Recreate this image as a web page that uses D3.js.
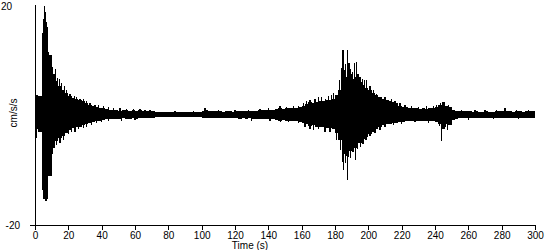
<!DOCTYPE html>
<html>
<head>
<meta charset="utf-8">
<script src="https://cdn.jsdelivr.net/npm/d3@7"></script>
<style>
  body { margin: 0; background: #fff; }
  svg { display: block; font-family: "Liberation Sans", Arial, sans-serif; }
  .axis text { font-size: 10px; fill: #000; }
  .axis path, .axis line { stroke: #000; shape-rendering: crispEdges; }
</style>
</head>
<body>
<div id="chart"></div>
<script>
// envelope of the record, one value per 2 s bin starting at 0 s
const binWidth = 2;
const upper = [
  3.6, 3.4, 8, 16, 11, 7, 6.2, 5.3, 4.5, 4.0,
  3.5, 3.1, 2.9, 2.7, 2.5, 2.2, 1.9, 1.7, 1.5, 1.3,
  1.2, 1.1, 1.0, 0.9, 0.9, 0.8, 0.9, 0.9, 0.8, 0.9,
  0.8, 0.9, 0.8, 0.8, 0.7, 0.7, 0.6, 0.6, 0.5, 0.6,
  0.5, 0.5, 0.6, 0.5, 0.5, 0.6, 0.5, 0.5, 0.6, 0.6,
  0.7, 1.0, 0.8, 0.7, 0.7, 0.7, 0.6, 0.7, 0.7, 0.6,
  0.7, 0.8, 0.7, 0.8, 0.7, 0.8, 0.8, 0.9, 0.9, 0.9,
  1.0, 0.9, 1.1, 1.2, 1.1, 1.2, 1.3, 1.2, 1.3, 1.4,
  1.6, 2.0, 2.3, 2.2, 2.4, 2.6, 2.5, 2.8, 2.7, 3.0,
  3.6, 4.5, 7, 7, 7.5, 6.5, 7, 6, 5.5, 5,
  4.5, 4.0, 3.6, 3.2, 2.9, 2.7, 2.6, 2.4, 2.1, 1.7,
  1.5, 1.4, 1.3, 1.2, 1.2, 1.1, 1.2, 1.1, 1.2, 1.3,
  1.4, 1.9, 2.4, 1.7, 1.5, 1.0, 0.8, 0.7, 0.7, 0.7,
  0.7, 0.6, 0.7, 0.6, 0.6, 0.7, 0.6, 0.6, 0.7, 0.7,
  0.7, 0.8, 0.7, 0.6, 0.7, 0.7, 0.6, 0.7, 0.7, 0.7
];
const lower = [
  -2.6, -3.0, -4.5, -12, -11, -6, -4.8, -4.2, -3.8, -3.3,
  -2.8, -2.4, -2.2, -2.1, -1.9, -1.7, -1.4, -1.3, -1.1, -1.0,
  -0.9, -0.8, -0.8, -0.7, -0.7, -0.7, -0.6, -0.7, -0.7, -0.6,
  -0.7, -0.6, -0.6, -0.6, -0.5, -0.5, -0.4, -0.4, -0.4, -0.4,
  -0.4, -0.3, -0.4, -0.4, -0.3, -0.4, -0.4, -0.3, -0.4, -0.4,
  -0.5, -0.6, -0.6, -0.5, -0.6, -0.5, -0.5, -0.6, -0.5, -0.6,
  -0.6, -0.7, -0.6, -0.7, -0.6, -0.7, -0.7, -0.8, -0.8, -0.7,
  -0.8, -0.8, -0.9, -1.0, -0.9, -1.0, -1.0, -1.1, -1.1, -1.2,
  -1.4, -1.7, -2.0, -1.9, -2.1, -2.2, -2.1, -2.4, -2.3, -2.6,
  -3.2, -4.5, -7, -7.5, -6.5, -6, -6, -5, -4.3, -4,
  -3.5, -3.0, -2.6, -2.2, -1.9, -1.7, -1.6, -1.5, -1.4, -1.3,
  -1.2, -1.1, -1.1, -1.0, -1.0, -1.1, -1.0, -1.0, -1.1, -1.1,
  -1.2, -1.6, -2.6, -1.6, -1.8, -0.9, -0.7, -0.6, -0.6, -0.6,
  -0.6, -0.5, -0.6, -0.5, -0.6, -0.6, -0.5, -0.6, -0.5, -0.6,
  -0.6, -0.6, -0.6, -0.5, -0.6, -0.6, -0.5, -0.6, -0.5, -0.6
];

// single peaks sticking out of the envelope: [time s, cm/s/s]
const peaks = [
  [4.6, 15], [5.2, 17.5], [5.8, 19.8], [6.3, 18.7], [6.9, 17], [7.5, 13], [8.3, 11.5],
  [9.1, 10.8], [9.8, 9.4], [10.6, 8.8], [11.4, 7.5], [12.4, 8.3], [13.4, 6.8], [14.6, 6.5],
  [16, 5.8], [17.5, 5.2], [19, 4.6], [21, 3.8], [23.5, 3.5], [25, 3.3], [27, 3.0], [29, 2.9],
  [31, 2.5], [33, 2.2], [36, 1.9], [38, 1.8], [41, 1.6], [44, 1.4], [47, 1.2], [51, 1.2],
  [55, 1.1], [59, 1.1], [63, 1.1], [66, 1.0], [69, 0.9],
  [1.0, -4.2], [4.8, -13.6], [5.4, -15.3], [6.0, -14.0], [6.6, -15.6], [7.2, -15.2],
  [7.8, -11], [8.6, -9.4], [9.5, -8.2], [10.4, -7], [11.2, -5.8], [12.8, -5.5], [15, -5],
  [17, -4.5], [20, -3.5], [22, -3.0], [24, -3.0], [26, -2.6], [29, -2.3], [31, -2.1],
  [34, -1.8], [37, -1.5], [40, -1.3], [44, -1.1], [52, -1.0], [60, -0.9],
  [84, 0.8], [95, 0.8], [102, 1.2], [110, 0.9], [120, 0.9], [128, 1.0], [135, 1.1],
  [140, 1.2], [147, 1.7], [151, 1.5], [155, 1.6], [158, 1.7],
  [130, -1.0], [141, -1.1], [147.5, -1.2], [152, -1.3], [158, -1.5],
  [161, 2.2], [163, 2.6], [165, 2.8], [168, 3.0], [170, 3.2], [172, 3.3], [174.5, 3.0],
  [176, 3.4], [178, 3.6], [179, 4.0], [182.5, 6.4], [183.8, 8.5],
  [184.8, 11.9], [185.6, 8.2], [186.5, 9.2], [187.6, 11.8], [188.4, 9.5], [189.3, 8.4],
  [190.5, 7.8], [191.5, 9.4], [192.7, 9.7], [193.8, 7.5], [195, 7.0], [196.3, 6.5],
  [197.5, 6.4], [199, 6.4], [201, 5.2], [203, 4.5], [205, 3.8], [208, 3.2], [210, 3.2],
  [212, 2.8], [214, 2.9], [216, 2.6], [219, 2.2], [222, 1.9], [226, 1.6], [230, 1.5],
  [235, 1.6], [239, 1.7],
  [162, -2.2], [165, -2.5], [167, -2.8], [170, -2.6], [174, -3.1], [177, -3.0], [181, -4.5],
  [183.2, -6.4], [184.4, -8.5], [185.3, -10],
  [186.2, -8.7], [187.3, -11.8], [188.2, -7.6], [189.5, -7.8], [190.8, -6.8], [192.3, -8.2],
  [193.4, -6.2], [195.2, -5.8], [196.8, -5.3], [198.6, -4.5], [201, -3.9], [204, -3.2], [207, -2.7],
  [210, -2.2], [215, -1.9], [220, -1.6], [228, -1.3], [236, -1.4],
  [241, 1.8], [243.5, 2.2], [245, 2.0], [248, 1.8], [256, 1.0], [264, 0.9], [270, 1.0],
  [277, 1.0], [282, 1.2], [289, 1.0], [296, 0.9],
  [242.5, -2.0], [244, -4.7], [246, -2.2], [247.5, -2.7], [260, -0.9], [275, -0.8], [290, -0.8]
];

const timeTicks = [0, 20, 40, 60, 80, 100, 120, 140, 160, 180, 200, 220, 240, 260, 280, 300];
const ampLabels = [20, -20];

const width = 550, height = 250;

const x = d3.scaleLinear().domain([0, 300]).range([35, 535]);
const y = d3.scaleLinear().domain([-20, 20]).range([225, 5]);

const svg = d3.select("#chart").append("svg")
    .attr("width", width)
    .attr("height", height);

const trace = svg.append("g").attr("shape-rendering", "crispEdges");

trace.selectAll("rect")
    .data(upper)
    .enter().append("rect")
    .attr("x", (d, i) => x(i * binWidth))
    .attr("width", (d, i) => x((i + 1) * binWidth) - x(i * binWidth))
    .attr("y", d => y(d))
    .attr("height", (d, i) => y(lower[i]) - y(d))
    .attr("fill", "#000");

trace.selectAll("line")
    .data(peaks)
    .enter().append("line")
    .attr("x1", d => x(d[0]))
    .attr("x2", d => x(d[0]))
    .attr("y1", y(0))
    .attr("y2", d => y(d[1]))
    .attr("stroke", "#000")
    .attr("stroke-width", 1.3);

// x axis
svg.append("g")
    .attr("class", "axis")
    .attr("transform", `translate(0,${y(-20)})`)
    .call(d3.axisBottom(x).tickValues(timeTicks).tickSize(5).tickSizeOuter(0).tickPadding(2));

svg.append("line")
    .attr("x1", x(0) - 5).attr("x2", x(0))
    .attr("y1", y(-20)).attr("y2", y(-20))
    .attr("stroke", "#000")
    .attr("shape-rendering", "crispEdges");

// y axis: bare line, labels at the ends
svg.append("line")
    .attr("x1", x(0)).attr("x2", x(0))
    .attr("y1", y(20)).attr("y2", y(-20))
    .attr("stroke", "#000")
    .attr("shape-rendering", "crispEdges");

svg.selectAll(".ylab")
    .data(ampLabels)
    .enter().append("text")
    .attr("class", "ylab")
    .attr("x", d => d > 0 ? 12 : 20)
    .attr("y", d => d > 0 ? y(d) + 5 : y(d) + 4)
    .attr("text-anchor", "end")
    .attr("font-size", 10)
    .text(d => d);

svg.append("text")
    .attr("transform", "translate(17,113) rotate(-90)")
    .attr("text-anchor", "middle")
    .attr("font-size", 10)
    .text("cm/s/s");

svg.append("text")
    .attr("x", 250)
    .attr("y", 249)
    .attr("text-anchor", "middle")
    .attr("font-size", 10)
    .text("Time (s)");
</script>
</body>
</html>
